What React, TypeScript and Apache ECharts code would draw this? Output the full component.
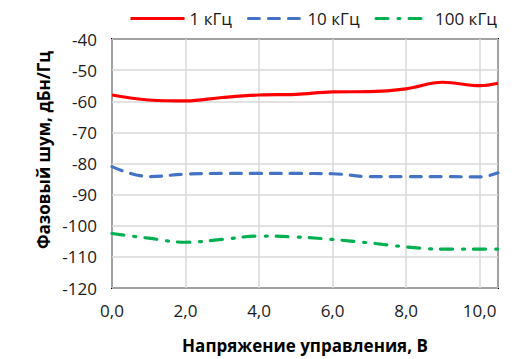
import React, { useEffect, useRef } from "react";
import * as echarts from "echarts";

const xValues = [0, 1, 2, 3, 4, 5, 6, 7, 8, 9, 10, 10.5];
const series1k = [-58, -59.6, -59.9, -58.8, -58, -57.8, -57, -56.9, -56, -53.9, -55, -54.2];
const series10k = [-81, -84.2, -83.4, -83.2, -83.2, -83.2, -83.3, -84.2, -84.2, -84.2, -84.3, -83];
const series100k = [-102.5, -104, -105.3, -104.4, -103.3, -103.6, -104.4, -105.5, -106.8, -107.5, -107.5, -107.5];
const seriesNames = ["1 кГц", "10 кГц", "100 кГц"];
const xTitle = "Напряжение управления, В";
const yTitle = "Фазовый шум, дБн/Гц";

const FONT = "'Open Sans', 'Liberation Sans', sans-serif";

export default function App() {
  const ref = useRef<HTMLDivElement>(null);
  useEffect(() => {
    if (!ref.current) return;
    const chart = echarts.init(ref.current, undefined, { renderer: "svg" });
    const pairs = (vals: number[]) => xValues.map((x, i) => [x, vals[i]]);
    const option: any = {
      animation: false,
      backgroundColor: "#fff",
      textStyle: { fontFamily: FONT },
      grid: {
        left: 112,
        right: 30,
        top: 39,
        bottom: 71,
        show: true,
        borderColor: "#000",
        borderWidth: 2,
        backgroundColor: "transparent",
      },
      legend: {
        left: 124,
        top: 5,
        itemWidth: 54,
        itemHeight: 14,
        itemGap: 15,
        itemStyle: { color: "transparent", borderColor: "transparent", borderWidth: 0, opacity: 0 },
        lineStyle: { width: 3 },
        textStyle: { fontFamily: FONT, fontSize: 17, color: "#1a1a1a" },
        data: seriesNames,
      },
      xAxis: {
        type: "value",
        min: 0,
        max: 10.5,
        interval: 2,
        axisLine: { show: false },
        axisTick: { show: false },
        splitLine: { show: true, lineStyle: { color: "#d9d9d9", width: 1.5 } },
        axisLabel: {
          margin: 14,
          fontFamily: FONT,
          fontSize: 17,
          color: "#1a1a1a",
          showMaxLabel: false,
          formatter: (v: number) => v.toFixed(1).replace(".", ","),
        },
      },
      yAxis: {
        type: "value",
        min: -120,
        max: -40,
        interval: 10,
        axisLine: { show: false },
        axisTick: { show: false },
        splitLine: { show: true, lineStyle: { color: "#d9d9d9", width: 1.5 } },
        axisLabel: { margin: 15, fontFamily: FONT, fontSize: 17, color: "#1a1a1a" },
      },
      graphic: [
        {
          type: "text",
          x: 305,
          y: 345,
          style: {
            text: xTitle,
            fontFamily: FONT,
            fontSize: 17,
            fontWeight: "bold",
            fill: "#000",
            align: "center",
            verticalAlign: "middle",
          },
        },
        {
          type: "text",
          x: 43,
          y: 150,
          rotation: Math.PI / 2,
          style: {
            text: yTitle,
            fontFamily: FONT,
            fontSize: 17,
            fontWeight: "bold",
            fill: "#000",
            align: "center",
            verticalAlign: "middle",
          },
        },
      ],
      series: [
        {
          name: seriesNames[0],
          type: "line",
          data: pairs(series1k),
          smooth: 0.4,
          symbol: "none",
          color: "#ff0000",
          lineStyle: { color: "#ff0000", width: 3.2 },
        },
        {
          name: seriesNames[1],
          type: "line",
          data: pairs(series10k),
          smooth: 0.4,
          symbol: "none",
          color: "#4472c4",
          lineStyle: { color: "#4472c4", width: 3.2, type: [11, 9], cap: "round" },
        },
        {
          name: seriesNames[2],
          type: "line",
          data: pairs(series100k),
          smooth: 0.4,
          symbol: "none",
          color: "#00b050",
          lineStyle: { color: "#00b050", width: 3.2, type: [12, 10, 2, 9], cap: "round" },
        },
      ],
    };
    chart.setOption(option);
    return () => chart.dispose();
  }, []);
  return (
    <div
      ref={ref}
      style={{ position: "fixed", left: 0, top: 0, width: 528, height: 359 }}
    />
  );
}
